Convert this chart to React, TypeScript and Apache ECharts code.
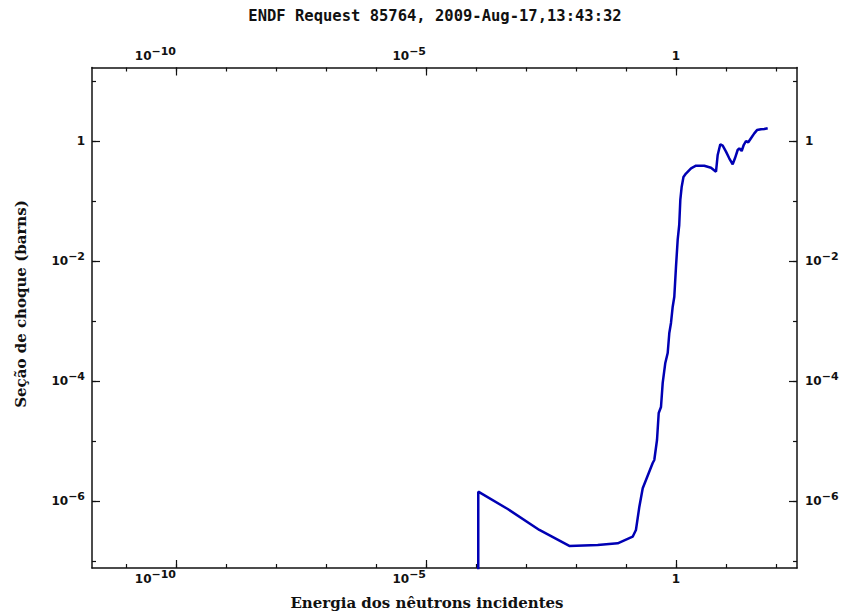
import React, { useEffect, useRef } from "react";
import * as echarts from "echarts";

// Incident neutron energy and cross section along the curve
const energia: number[] = [
  1.11e-4, 1.11e-4, 4.31e-4, 1.85e-3, 7.35e-3, 2.72e-2, 6.82e-2, 0.136, 0.158, 0.185,
  0.216, 0.251, 0.342, 0.368, 0.417, 0.451, 0.501, 0.542, 0.611, 0.682,
  0.735, 0.794, 0.859, 0.925, 1.0, 1.08, 1.16, 1.22, 1.3, 1.41,
  1.58, 2.0, 2.51, 3.68, 5.01, 6.31, 6.82, 7.69, 8.59, 10.0,
  11.6, 13.6, 15.1, 17.1, 18.5, 20.6, 22.6, 25.1, 27.9, 31.6,
  36.8, 41.7, 50.1, 58.3, 68.2,
];
const secaoChoque: number[] = [
  1e-8, 1.43e-6, 7.36e-7, 3.29e-7, 1.78e-7, 1.85e-7, 1.97e-7, 2.54e-7, 3.29e-7, 8.04e-7,
  1.63e-6, 2.24e-6, 4.3e-6, 4.82e-6, 1.04e-5, 2.93e-5, 3.69e-5, 9.27e-5, 2.0e-4, 2.93e-4,
  6.31e-4, 9.27e-4, 1.73e-3, 2.54e-3, 8.04e-3, 2.24e-2, 3.98e-2, 0.104, 0.173, 0.251,
  0.287, 0.351, 0.387, 0.387, 0.359, 0.308, 0.585, 0.881, 0.836, 0.664,
  0.515, 0.409, 0.515, 0.708, 0.755, 0.681, 0.857, 1.0, 0.951, 1.11,
  1.34, 1.52, 1.57, 1.58, 1.63,
];

// Decade exponents for ticks and labels
const xTickExp: number[] = [-11, -10, -9, -8, -7, -6, -5, -4, -3, -2, -1, 0, 1, 2];
const xMajorExp: number[] = [-10, -5, 0];
const xPowLabelExp: number[] = [-10, -5];
const xUnitLabelExp: number[] = [0];
const yTickExp: number[] = [-7, -6, -5, -4, -3, -2, -1, 0, 1];
const yLabelExp: number[] = [-6, -4, -2, 0];

const xMinExp = -11.68;
const xMaxExp = 2.42;
const yMinExp = -7.117;
const yMaxExp = 1.225;

const titulo = "ENDF Request 85764, 2009-Aug-17,13:43:32";
const tituloX = "Energia dos nêutrons incidentes";
const tituloY = "Seção de choque (barns)";

const MONO = "'DejaVu Sans Mono', 'Liberation Mono', monospace";
const SANS = "'DejaVu Sans', 'Liberation Sans', sans-serif";
const SERIF = "'DejaVu Serif', 'Liberation Serif', serif";
const INK = "#111";

const powLabel = (v: number) => {
  const e = Math.round(v);
  if (e === 0) return "{b|1}";
  return "{b|10}{s|" + (e < 0 ? "\u2212" + -e : String(e)) + "}";
};

const labelRich = {
  b: {
    fontFamily: SANS,
    fontWeight: "bold",
    fontSize: 12,
    lineHeight: 20,
    color: INK,
  },
  s: {
    fontFamily: SANS,
    fontWeight: "bold",
    fontSize: 11,
    lineHeight: 10,
    verticalAlign: "top",
    color: INK,
  },
};

function xAxisPair(position: "bottom" | "top") {
  const base = {
    type: "value" as const,
    position,
    min: xMinExp,
    max: xMaxExp,
    splitLine: { show: false },
  };
  const margin = position === "bottom" ? 1 : 2;
  return [
    {
      ...base,
      axisLine: { show: true, onZero: false, lineStyle: { color: INK, width: 1.5 } },
      axisTick: { show: true, inside: true, length: 4, customValues: xTickExp, lineStyle: { color: INK, width: 1.2 } },
      axisLabel: {
        show: true,
        customValues: xUnitLabelExp,
        margin,
        align: "center",
        formatter: powLabel,
        rich: labelRich,
      },
    },
    {
      ...base,
      axisLine: { show: false, onZero: false },
      axisTick: { show: true, inside: true, length: 8, customValues: xMajorExp, lineStyle: { color: INK, width: 1.2 } },
      axisLabel: {
        show: true,
        customValues: xPowLabelExp,
        margin,
        align: "right",
        formatter: powLabel,
        rich: labelRich,
      },
    },
  ];
}

function yAxisPair(position: "left" | "right") {
  const base = {
    type: "value" as const,
    position,
    min: yMinExp,
    max: yMaxExp,
    splitLine: { show: false },
  };
  return [
    {
      ...base,
      axisLine: { show: true, onZero: false, lineStyle: { color: INK, width: 1.5 } },
      axisTick: { show: true, inside: true, length: 4, customValues: yTickExp, lineStyle: { color: INK, width: 1.2 } },
      axisLabel: { show: false },
    },
    {
      ...base,
      axisLine: { show: false, onZero: false },
      axisTick: { show: true, inside: true, length: 8, customValues: yLabelExp, lineStyle: { color: INK, width: 1.2 } },
      axisLabel: {
        show: true,
        customValues: yLabelExp,
        margin: position === "left" ? 7 : 8,
        formatter: powLabel,
        rich: labelRich,
      },
    },
  ];
}

export default function App() {
  const ref = useRef<HTMLDivElement>(null);

  useEffect(() => {
    if (!ref.current) return;
    const chart = echarts.init(ref.current, null, { renderer: "svg" });

    const points = energia.map((e, i) => [Math.log10(e), Math.log10(secaoChoque[i])]);

    chart.setOption({
      animation: false,
      backgroundColor: "#ffffff",
      grid: { left: 92, right: 47, top: 67.5, bottom: 48, containLabel: false, outerBoundsMode: "none" },
      xAxis: [...xAxisPair("bottom"), ...xAxisPair("top")],
      yAxis: [...yAxisPair("left"), ...yAxisPair("right")],
      series: [
        {
          type: "line",
          xAxisIndex: 0,
          yAxisIndex: 0,
          data: points,
          showSymbol: false,
          clip: true,
          lineStyle: { color: "#0000b4", width: 2.5 },
          itemStyle: { color: "#0000b4" },
        },
      ],
      graphic: [
        {
          type: "text",
          x: 435,
          y: 16,
          style: {
            text: titulo,
            font: `bold 15.5px ${MONO}`,
            fill: INK,
            textAlign: "center",
            textVerticalAlign: "middle",
          },
        },
        {
          type: "text",
          x: 427,
          y: 603,
          style: {
            text: tituloX,
            font: `bold 15px ${SERIF}`,
            fill: INK,
            textAlign: "center",
            textVerticalAlign: "middle",
          },
        },
        {
          type: "text",
          x: 21,
          y: 304,
          rotation: Math.PI / 2,
          style: {
            text: tituloY,
            font: `bold 15px ${SERIF}`,
            fill: INK,
            textAlign: "center",
            textVerticalAlign: "middle",
          },
        },
      ],
    });

    return () => chart.dispose();
  }, []);

  return (
    <div
      ref={ref}
      style={{ position: "fixed", left: 0, top: 0, width: 844, height: 616, background: "#fff" }}
    />
  );
}
